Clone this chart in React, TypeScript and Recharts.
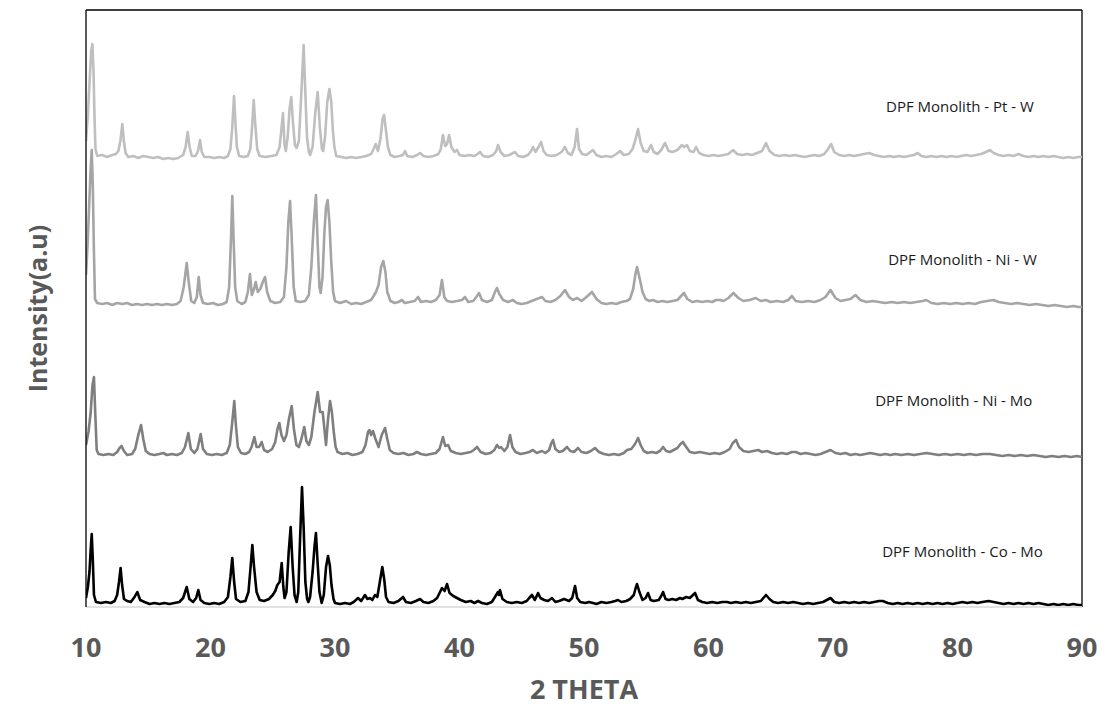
import React from 'react';
import { LineChart, Line, XAxis, YAxis, ReferenceLine, ReferenceDot } from 'recharts';

type P = [number, number];

const xTicks = [10, 20, 30, 40, 50, 60, 70, 80, 90];
const seriesNames = ['DPF Monolith - Pt - W', 'DPF Monolith - Ni - W', 'DPF Monolith - Ni - Mo', 'DPF Monolith - Co - Mo'];
const seriesColors = ['#bfbfbf', '#a5a5a5', '#7f7f7f', '#000000'];
const labelX = [80.2, 80.4, 79.7, 80.4];
const labelY = [500, 347, 206, 55];

const ptW: P[] = [[10.0,466],[10.15,492],[10.3,528],[10.42,556],[10.51,563],[10.6,538],[10.68,492],[10.76,458],[10.9,451],[11.3,452],[11.7,450],[12.1,452],[12.4,453],[12.6,456],[12.76,466],[12.92,483],[13.04,466],[13.18,454],[13.4,450],[13.8,451],[14.2,449],[14.6,451],[15.0,450],[15.4,449],[15.8,450],[16.2,448],[16.6,449],[17.0,448],[17.4,449],[17.8,452],[18.0,460],[18.17,475],[18.32,460],[18.5,451],[18.8,451],[19.0,456],[19.16,467],[19.3,455],[19.5,450],[19.9,450],[20.3,449],[20.7,450],[21.1,449],[21.4,451],[21.6,458],[21.75,480],[21.89,511],[22.0,485],[22.12,460],[22.3,451],[22.7,450],[23.0,451],[23.2,458],[23.35,482],[23.47,507],[23.6,482],[23.75,458],[23.95,451],[24.4,450],[24.9,451],[25.3,452],[25.55,460],[25.7,478],[25.82,494],[25.95,462],[26.05,456],[26.2,470],[26.35,498],[26.49,510],[26.62,485],[26.78,462],[26.92,459],[27.1,466],[27.28,510],[27.48,562],[27.6,520],[27.75,470],[27.9,455],[28.0,452],[28.2,460],[28.42,495],[28.61,515],[28.78,480],[28.95,458],[29.05,456],[29.2,470],[29.38,505],[29.55,518],[29.7,505],[29.82,478],[29.95,460],[30.1,451],[30.5,450],[30.9,449],[31.3,450],[31.7,449],[32.1,450],[32.5,451],[32.9,453],[33.1,458],[33.27,463],[33.45,456],[33.65,468],[33.82,488],[33.94,492],[34.08,478],[34.25,460],[34.45,452],[34.8,450],[35.2,451],[35.45,452],[35.62,456],[35.8,451],[36.2,450],[36.6,452],[36.83,454],[37.1,451],[37.5,450],[37.9,451],[38.3,453],[38.5,458],[38.67,472],[38.85,461],[39.0,463],[39.16,472],[39.35,460],[39.6,455],[39.8,457],[40.0,452],[40.4,451],[40.8,452],[41.2,451],[41.45,453],[41.65,455],[41.9,451],[42.3,450],[42.7,452],[42.95,456],[43.09,462],[43.3,455],[43.6,451],[44.0,452],[44.3,454],[44.46,455],[44.7,451],[45.1,450],[45.5,452],[45.75,456],[45.9,460],[46.1,455],[46.35,460],[46.55,465],[46.75,456],[47.0,452],[47.4,451],[47.8,452],[48.2,455],[48.47,460],[48.7,454],[49.0,452],[49.25,460],[49.44,478],[49.6,458],[49.85,453],[50.2,452],[50.5,455],[50.72,457],[51.0,452],[51.4,450],[51.8,451],[52.2,450],[52.6,453],[52.89,456],[53.2,452],[53.6,453],[53.9,458],[54.15,468],[54.34,478],[54.55,464],[54.8,456],[55.1,455],[55.38,462],[55.6,455],[55.9,453],[56.2,457],[56.51,464],[56.8,456],[57.1,455],[57.5,457],[57.87,462],[58.05,460],[58.27,462],[58.5,456],[58.8,455],[59.0,460],[59.25,454],[59.6,452],[60.0,451],[60.4,452],[60.8,451],[61.2,452],[61.6,453],[61.97,457],[62.3,453],[62.7,452],[63.1,453],[63.5,452],[63.9,454],[64.3,456],[64.62,464],[64.9,456],[65.3,452],[65.7,451],[66.1,452],[66.5,451],[66.9,452],[67.3,451],[67.7,450],[68.1,451],[68.5,452],[68.9,451],[69.3,453],[69.6,458],[69.85,463],[70.1,455],[70.5,452],[70.9,451],[71.3,452],[71.7,451],[72.1,452],[72.5,453],[72.9,454],[73.3,452],[73.7,451],[74.1,450],[74.5,451],[74.9,450],[75.3,451],[75.7,450],[76.1,451],[76.5,452],[76.8,454],[77.1,451],[77.5,450],[77.9,451],[78.3,450],[78.7,451],[79.1,450],[79.5,451],[79.9,450],[80.3,451],[80.7,452],[81.1,451],[81.5,452],[81.9,453],[82.3,455],[82.6,457],[82.9,454],[83.3,452],[83.7,451],[84.1,452],[84.5,451],[84.9,453],[85.3,451],[85.7,450],[86.1,451],[86.5,450],[86.9,451],[87.3,450],[87.7,451],[88.1,450],[88.5,449],[88.9,450],[89.3,449],[89.7,450],[90.0,450]];

const niW: P[] = [[10.0,332],[10.12,360],[10.25,400],[10.38,440],[10.46,457],[10.55,420],[10.63,360],[10.72,308],[10.9,304],[11.3,303],[11.7,304],[12.1,302],[12.5,304],[12.9,303],[13.3,304],[13.7,302],[14.1,303],[14.5,302],[14.9,303],[15.3,302],[15.7,303],[16.1,302],[16.5,303],[16.9,302],[17.3,303],[17.6,306],[17.85,320],[18.09,344],[18.25,325],[18.45,306],[18.7,304],[18.9,310],[19.05,330],[19.2,312],[19.4,304],[19.8,303],[20.2,304],[20.6,302],[21.0,303],[21.3,305],[21.5,320],[21.65,370],[21.75,411],[21.85,370],[21.98,320],[22.15,306],[22.5,303],[22.8,305],[23.0,315],[23.17,333],[23.32,312],[23.5,318],[23.63,325],[23.8,315],[24.0,318],[24.2,325],[24.38,330],[24.55,315],[24.8,306],[25.2,304],[25.6,305],[25.9,310],[26.1,340],[26.25,385],[26.39,406],[26.52,370],[26.68,320],[26.85,306],[27.2,305],[27.6,306],[27.9,312],[28.1,340],[28.3,385],[28.47,412],[28.62,360],[28.75,320],[28.85,314],[29.0,330],[29.15,375],[29.28,400],[29.41,407],[29.55,385],[29.7,345],[29.85,315],[30.0,306],[30.4,304],[30.9,306],[31.3,303],[31.7,304],[32.1,303],[32.5,305],[32.9,307],[33.1,311],[33.29,315],[33.5,322],[33.7,340],[33.88,346],[34.05,335],[34.2,315],[34.45,306],[34.8,304],[35.1,305],[35.38,307],[35.6,304],[36.0,305],[36.4,306],[36.67,310],[36.9,305],[37.3,306],[37.7,305],[38.1,307],[38.4,312],[38.59,327],[38.78,310],[39.0,306],[39.4,305],[39.8,306],[40.2,307],[40.44,310],[40.7,305],[41.1,306],[41.35,310],[41.57,314],[41.8,307],[42.2,305],[42.6,307],[42.85,315],[43.01,319],[43.2,313],[43.5,307],[43.9,305],[44.3,307],[44.6,304],[45.0,303],[45.4,304],[45.8,306],[46.2,308],[46.63,310],[46.9,306],[47.3,305],[47.7,307],[48.1,311],[48.47,317],[48.8,310],[49.1,307],[49.44,309],[49.8,306],[50.2,310],[50.64,315],[51.0,308],[51.4,304],[51.8,303],[52.2,304],[52.6,303],[53.0,305],[53.4,306],[53.69,308],[53.95,318],[54.12,332],[54.26,340],[54.5,327],[54.7,315],[54.95,308],[55.25,306],[55.54,307],[55.9,305],[56.3,306],[56.7,305],[57.1,306],[57.5,307],[57.8,311],[58.03,314],[58.3,308],[58.7,305],[59.1,306],[59.5,305],[59.9,306],[60.3,305],[60.6,307],[60.92,307],[61.2,306],[61.6,309],[62.0,314],[62.4,309],[62.8,306],[63.3,307],[63.8,309],[64.2,306],[64.6,307],[65.0,305],[65.5,306],[66.0,305],[66.4,307],[66.7,311],[67.0,306],[67.5,305],[68.0,306],[68.5,305],[69.0,307],[69.4,310],[69.8,317],[70.2,309],[70.6,306],[71.0,307],[71.4,308],[71.8,312],[72.2,307],[72.7,305],[73.2,306],[73.7,305],[74.2,304],[74.7,305],[75.2,304],[75.7,305],[76.2,304],[76.7,305],[77.2,306],[77.5,307],[77.9,304],[78.4,303],[78.9,304],[79.4,303],[79.9,304],[80.4,303],[80.9,304],[81.4,303],[81.9,305],[82.4,306],[82.9,307],[83.3,305],[83.8,304],[84.3,303],[84.8,304],[85.3,303],[85.8,302],[86.3,303],[86.8,302],[87.3,301],[87.8,302],[88.3,301],[88.8,300],[89.3,301],[89.7,300],[90.0,300]];

const niMo: P[] = [[10.0,162],[10.2,175],[10.38,195],[10.52,222],[10.64,230],[10.74,195],[10.86,157],[11.0,153],[11.4,152],[11.8,153],[12.2,152],[12.5,155],[12.7,159],[12.86,161],[13.05,156],[13.3,152],[13.7,153],[13.95,158],[14.2,172],[14.42,182],[14.6,168],[14.8,156],[15.1,153],[15.5,152],[15.9,153],[16.21,154],[16.5,152],[16.9,153],[17.3,152],[17.7,154],[17.95,160],[18.22,174],[18.42,158],[18.7,154],[18.95,158],[19.21,173],[19.4,158],[19.7,153],[20.1,152],[20.5,153],[20.9,152],[21.3,154],[21.55,162],[21.75,185],[21.91,206],[22.05,180],[22.2,160],[22.45,154],[22.8,153],[23.1,155],[23.3,160],[23.52,170],[23.7,160],[23.9,160],[24.11,165],[24.3,157],[24.6,155],[24.95,158],[25.2,165],[25.38,178],[25.53,184],[25.7,172],[25.9,166],[26.1,172],[26.3,188],[26.52,201],[26.7,178],[26.9,162],[27.1,160],[27.3,168],[27.53,180],[27.7,166],[27.9,162],[28.1,170],[28.35,195],[28.61,215],[28.8,195],[29.01,195],[29.15,178],[29.28,162],[29.42,185],[29.6,206],[29.75,195],[29.9,175],[30.05,160],[30.2,155],[30.6,153],[31.0,154],[31.4,152],[31.8,153],[32.2,155],[32.45,162],[32.65,175],[32.76,177],[32.9,172],[33.05,176],[33.25,168],[33.5,160],[33.75,172],[34.02,179],[34.2,168],[34.4,157],[34.7,154],[35.1,153],[35.5,154],[35.9,152],[36.3,153],[36.59,155],[36.9,153],[37.3,152],[37.7,153],[38.1,154],[38.4,158],[38.67,170],[38.85,161],[39.08,162],[39.3,156],[39.7,154],[40.1,153],[40.5,154],[40.9,155],[41.15,157],[41.41,160],[41.7,155],[42.1,153],[42.5,154],[42.8,157],[43.01,162],[43.2,159],[43.33,160],[43.6,156],[43.85,160],[44.06,172],[44.25,160],[44.5,155],[44.9,153],[45.3,154],[45.6,155],[45.9,157],[46.2,154],[46.4,155],[46.63,156],[46.9,154],[47.2,157],[47.35,163],[47.51,167],[47.7,158],[48.0,155],[48.3,156],[48.63,160],[48.9,156],[49.2,155],[49.52,159],[49.8,155],[50.2,154],[50.55,156],[50.88,159],[51.2,155],[51.6,153],[52.0,152],[52.4,153],[52.8,152],[53.2,154],[53.45,157],[53.8,158],[54.1,163],[54.34,169],[54.55,162],[54.8,156],[55.1,154],[55.46,155],[55.8,154],[56.1,156],[56.35,160],[56.6,156],[56.9,155],[57.2,157],[57.5,159],[57.75,163],[57.95,165],[58.1,162],[58.27,159],[58.5,155],[58.9,154],[59.3,155],[59.7,154],[60.1,153],[60.5,154],[60.9,153],[61.3,155],[61.7,158],[61.95,164],[62.21,167],[62.45,160],[62.8,156],[63.2,155],[63.6,156],[64.0,157],[64.3,155],[64.7,156],[65.1,154],[65.5,153],[65.9,154],[66.3,153],[66.7,155],[67.0,155],[67.4,153],[67.8,154],[68.2,153],[68.6,152],[69.0,153],[69.4,155],[69.8,157],[70.2,154],[70.6,153],[71.0,154],[71.4,152],[71.8,153],[72.2,152],[72.6,153],[73.0,154],[73.4,153],[73.8,152],[74.2,153],[74.6,152],[75.0,153],[75.5,152],[76.0,153],[76.5,152],[77.0,153],[77.5,154],[78.0,153],[78.5,152],[79.0,153],[79.5,152],[80.0,153],[80.5,152],[81.0,153],[81.5,152],[82.0,153],[82.6,153],[83.1,152],[83.6,151],[84.1,152],[84.6,151],[85.1,152],[85.6,151],[86.1,152],[86.6,151],[87.1,150],[87.6,151],[88.1,150],[88.6,151],[89.1,150],[89.6,151],[90.0,150]];

const coMo: P[] = [[10.0,9],[10.15,20],[10.28,35],[10.38,58],[10.46,73],[10.54,50],[10.64,12],[10.8,5],[11.2,4],[11.6,5],[12.0,4],[12.3,6],[12.5,12],[12.65,25],[12.78,39],[12.9,22],[13.05,8],[13.3,6],[13.6,5],[13.9,10],[14.12,15],[14.35,7],[14.7,5],[15.1,3],[15.5,4],[15.9,3],[16.3,4],[16.7,3],[17.1,4],[17.5,5],[17.8,9],[18.09,20],[18.3,8],[18.6,5],[18.85,9],[19.02,17],[19.2,7],[19.5,4],[19.9,3],[20.3,4],[20.7,3],[21.1,5],[21.4,10],[21.6,30],[21.75,49],[21.9,25],[22.05,8],[22.4,5],[22.8,6],[23.05,15],[23.22,40],[23.36,62],[23.5,40],[23.7,15],[23.95,7],[24.3,6],[24.7,8],[25.0,12],[25.2,16],[25.37,22],[25.55,25],[25.72,44],[25.85,20],[25.95,9],[26.1,15],[26.28,55],[26.44,80],[26.6,40],[26.75,12],[26.92,5],[27.05,15],[27.2,70],[27.35,120],[27.48,80],[27.62,25],[27.76,8],[27.86,5],[28.0,10],[28.2,35],[28.35,60],[28.47,74],[28.6,45],[28.75,15],[28.93,4],[29.1,12],[29.28,40],[29.44,51],[29.58,42],[29.72,22],[29.88,8],[30.0,4],[30.4,3],[30.8,4],[31.2,3],[31.5,5],[31.85,9],[32.1,6],[32.41,12],[32.6,8],[32.81,9],[33.0,7],[33.21,12],[33.4,10],[33.6,25],[33.8,40],[33.95,28],[34.1,10],[34.3,5],[34.7,4],[35.1,6],[35.46,10],[35.7,5],[36.1,4],[36.5,6],[36.83,8],[37.1,5],[37.5,4],[37.9,6],[38.2,9],[38.4,14],[38.59,19],[38.8,16],[39.0,23],[39.2,14],[39.5,11],[39.8,9],[40.1,7],[40.5,5],[40.9,6],[41.2,4],[41.49,6],[41.8,4],[42.2,3],[42.6,5],[42.85,10],[43.09,15],[43.18,12],[43.25,17],[43.45,8],[43.8,5],[44.2,4],[44.6,5],[45.0,4],[45.4,6],[45.6,9],[45.82,12],[46.05,7],[46.31,14],[46.5,9],[46.8,7],[47.1,6],[47.43,9],[47.7,5],[48.0,6],[48.4,8],[48.8,6],[49.05,9],[49.28,21],[49.45,9],[49.7,5],[50.1,4],[50.4,5],[50.72,4],[51.0,3],[51.4,5],[51.8,4],[52.2,5],[52.5,6],[52.73,7],[53.0,5],[53.4,6],[53.7,8],[54.0,12],[54.15,19],[54.26,23],[54.45,15],[54.7,7],[54.95,9],[55.14,14],[55.35,7],[55.6,6],[56.0,7],[56.2,11],[56.35,15],[56.55,8],[56.8,7],[57.1,8],[57.4,7],[57.71,9],[57.9,8],[58.2,10],[58.5,9],[58.92,14],[59.15,7],[59.5,5],[59.9,4],[60.3,5],[60.7,4],[61.1,5],[61.49,5],[61.8,4],[62.2,5],[62.6,4],[63.0,5],[63.4,4],[63.8,5],[64.2,6],[64.62,12],[64.9,8],[65.2,5],[65.6,4],[66.0,5],[66.4,4],[66.8,5],[67.2,4],[67.6,3],[68.0,4],[68.4,3],[68.8,4],[69.2,5],[69.5,7],[69.8,9],[70.1,5],[70.5,4],[70.9,5],[71.3,4],[71.7,5],[72.1,4],[72.5,5],[72.9,4],[73.3,5],[73.7,6],[74.0,6],[74.4,4],[74.8,3],[75.2,4],[75.6,3],[76.0,4],[76.4,3],[76.8,4],[77.2,3],[77.6,4],[78.0,3],[78.4,4],[78.8,3],[79.2,4],[79.6,3],[80.0,4],[80.4,5],[80.8,4],[81.2,5],[81.6,4],[82.0,5],[82.5,6],[82.9,5],[83.3,4],[83.7,3],[84.1,4],[84.5,3],[84.9,4],[85.3,3],[85.7,4],[86.1,3],[86.5,4],[86.9,3],[87.3,2],[87.7,3],[88.1,2],[88.5,3],[88.9,2],[89.3,3],[89.7,2],[90.0,2]];

const allSeries: P[][] = [ptW, niW, niMo, coMo];

const FONT = "'Open Sans', 'DejaVu Sans', sans-serif";
const AXIS_GRAY = '#595959';

const YTitle = (props: any) => {
  const vb = props.viewBox || {};
  const cx = vb.x + 29;
  const cy = vb.y + vb.height / 2;
  return (
    <text
      x={cx}
      y={cy}
      transform={`rotate(-90, ${cx}, ${cy})`}
      textAnchor="middle"
      dominantBaseline="central"
      fill={AXIS_GRAY}
      fontFamily={FONT}
      fontWeight={700}
      fontSize={25}
    >
      Intensity(a.u)
    </text>
  );
};

const XTitle = (props: any) => {
  const vb = props.viewBox || {};
  return (
    <text
      x={vb.x + vb.width / 2}
      y={vb.y + 92}
      textAnchor="middle"
      fill={AXIS_GRAY}
      fontFamily={FONT}
      fontWeight={700}
      fontSize={27}
    >
      2 THETA
    </text>
  );
};

export default function App() {
  return (
    <div style={{ width: 1097, height: 704 }}>
      <LineChart width={1097} height={704} margin={{ top: 2, right: 23, left: 0, bottom: 0 }}>
        <XAxis
          type="number"
          dataKey="x"
          domain={[10, 90]}
          ticks={xTicks}
          allowDataOverflow
          height={105}
          tickLine={false}
          tickSize={6}
          tickMargin={25}
          axisLine={{ stroke: '#d9d9d9', strokeWidth: 1.3 }}
          tick={{ fill: AXIS_GRAY, fontSize: 27, fontWeight: 700, fontFamily: FONT }}
          label={{ content: XTitle }}
        />
        <YAxis
          type="number"
          dataKey="y"
          domain={[0, 597]}
          allowDataOverflow
          width={78}
          tick={false}
          tickLine={false}
          axisLine={{ stroke: '#000', strokeWidth: 1.3 }}
          label={{ content: YTitle }}
        />
        <ReferenceLine y={597} stroke="#000" strokeWidth={1.3} ifOverflow="visible" />
        <ReferenceLine x={90} stroke="#000" strokeWidth={1.3} ifOverflow="visible" />
        {allSeries.map((s, i) => (
          <Line
            key={seriesNames[i]}
            data={s.map(([x, y]) => ({ x, y }))}
            dataKey="y"
            type="linear"
            stroke={seriesColors[i]}
            strokeWidth={2.6}
            strokeLinejoin="round"
            dot={false}
            activeDot={false}
            isAnimationActive={false}
            name={seriesNames[i]}
          />
        ))}
        {seriesNames.map((n, i) => (
          <ReferenceDot
            key={'lbl' + i}
            x={labelX[i]}
            y={labelY[i]}
            r={0}
            fill="none"
            stroke="none"
            label={{ value: n, position: 'center', fill: '#1a1a1a', fontSize: 15, fontFamily: FONT }}
          />
        ))}
      </LineChart>
    </div>
  );
}
